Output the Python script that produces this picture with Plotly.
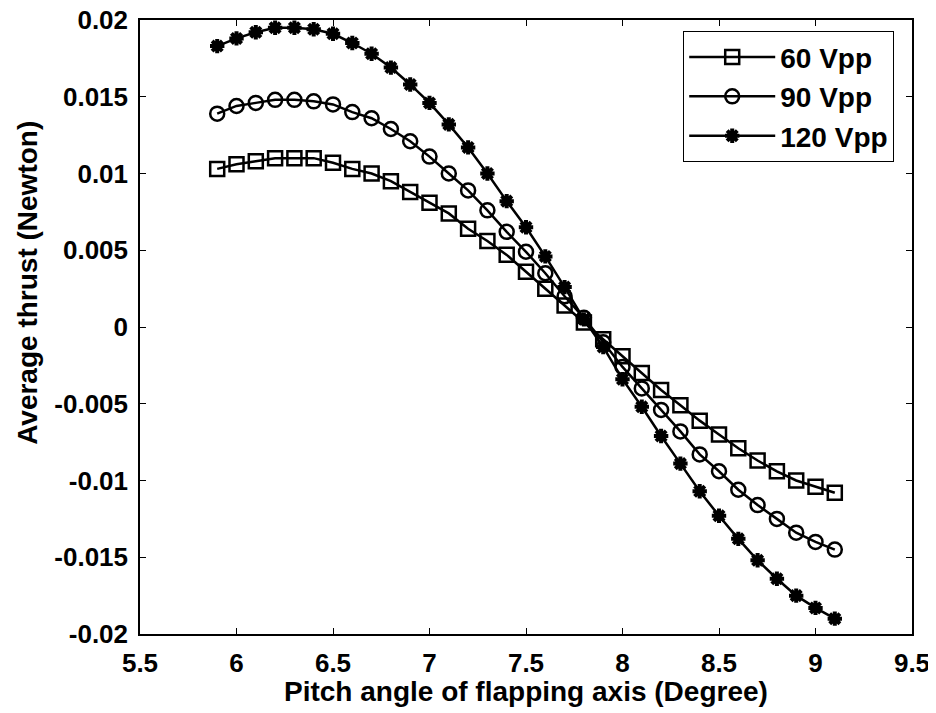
import plotly.graph_objects as go

pitch = [5.9, 6.0, 6.1, 6.2, 6.3, 6.4, 6.5, 6.6, 6.7, 6.8, 6.9, 7.0, 7.1, 7.2, 7.3, 7.4,
         7.5, 7.6, 7.7, 7.8, 7.9, 8.0, 8.1, 8.2, 8.3, 8.4, 8.5, 8.6, 8.7, 8.8, 8.9, 9.0, 9.1]

thrust_60 = [0.0103, 0.0106, 0.0108, 0.0110, 0.0110, 0.0110, 0.0107, 0.0103, 0.0100, 0.0095,
             0.0088, 0.0081, 0.0074, 0.0064, 0.0056, 0.0047, 0.0036, 0.0025, 0.0014, 0.0003,
             -0.0008, -0.0019, -0.0030, -0.0041, -0.0051, -0.0061, -0.0070, -0.0079, -0.0087,
             -0.0094, -0.0100, -0.0104, -0.0108]

thrust_90 = [0.0139, 0.0144, 0.0146, 0.0148, 0.0148, 0.0147, 0.0145, 0.0140, 0.0136, 0.0129,
             0.0121, 0.0111, 0.0100, 0.0089, 0.0076, 0.0062, 0.0049, 0.0035, 0.0020, 0.0006,
             -0.0010, -0.0026, -0.0040, -0.0054, -0.0068, -0.0083, -0.0094, -0.0106, -0.0116,
             -0.0125, -0.0134, -0.0140, -0.0145]

thrust_120 = [0.0183, 0.0188, 0.0192, 0.0195, 0.0195, 0.0194, 0.0191, 0.0185, 0.0178, 0.0169,
              0.0158, 0.0146, 0.0132, 0.0117, 0.0100, 0.0082, 0.0065, 0.0046, 0.0026, 0.0005,
              -0.0013, -0.0034, -0.0052, -0.0071, -0.0089, -0.0107, -0.0123, -0.0138, -0.0152,
              -0.0164, -0.0175, -0.0183, -0.0190]

series_names = ["60 Vpp", "90 Vpp", "120 Vpp"]

x_ticks = [5.5, 6, 6.5, 7, 7.5, 8, 8.5, 9, 9.5]
x_tick_labels = ["5.5", "6", "6.5", "7", "7.5", "8", "8.5", "9", "9.5"]
y_ticks = [-0.02, -0.015, -0.01, -0.005, 0, 0.005, 0.01, 0.015, 0.02]
y_tick_labels = ["-0.02", "-0.015", "-0.01", "-0.005", "0", "0.005", "0.01", "0.015", "0.02"]

x_title = "Pitch angle of flapping axis (Degree)"
y_title = "Average thrust (Newton)"

FONT = "Liberation Sans, Arial, Helvetica, sans-serif"


def bold(s):
    return "<b>%s</b>" % s


series = [
    (thrust_60, series_names[0], dict(symbol="square-open", size=14, line=dict(width=2.5, color="black"))),
    (thrust_90, series_names[1], dict(symbol="circle-open", size=14, line=dict(width=2.5, color="black"))),
    (thrust_120, series_names[2], dict(symbol="asterisk-open", size=12, line=dict(width=4, color="black"))),
]

fig = go.Figure()
for i, (vals, name, mk) in enumerate(series):
    fig.add_trace(go.Scatter(
        x=pitch, y=vals, name=bold(name), mode="lines+markers",
        legendgroup="g%d" % i,
        line=dict(color="black", width=2.5),
        marker=dict(color="black", **mk),
    ))

axis_common = dict(
    showline=True, linecolor="black", linewidth=1.5, mirror="ticks",
    ticks="inside", ticklen=6, tickwidth=1, tickcolor="black",
    showgrid=False, zeroline=False, automargin=False,
    ticklabeloverflow="allow",
    tickfont=dict(family=FONT, size=26, color="black"),
)

fig.update_xaxes(
    range=[5.5, 9.5], tickmode="array", tickvals=x_ticks,
    ticktext=[bold(t) for t in x_tick_labels],
    ticklabelstandoff=5,
    **axis_common,
)
fig.update_yaxes(
    range=[-0.02, 0.02], tickmode="array", tickvals=y_ticks,
    ticktext=[bold(t) for t in y_tick_labels],
    ticklabelstandoff=5,
    **axis_common,
)

fig.add_annotation(
    text=bold(x_title), showarrow=False,
    xref="paper", yref="paper", x=0.5, y=-0.093, xanchor="center", yanchor="middle",
    font=dict(family=FONT, size=28, color="black"),
)
fig.add_annotation(
    text=bold(y_title), textangle=-90, showarrow=False,
    xref="paper", yref="paper", x=-0.145, y=0.572, xanchor="center", yanchor="middle",
    font=dict(family=FONT, size=28, color="black"),
)

fig.update_layout(
    width=928, height=705,
    margin=dict(l=132, r=24, t=12, b=79),
    paper_bgcolor="white", plot_bgcolor="white",
    showlegend=True,
    legend=dict(
        x=0.9767, y=0.982, xanchor="right", yanchor="top",
        bgcolor="white", bordercolor="black", borderwidth=1.2,
        font=dict(family=FONT, size=28, color="black"),
        itemwidth=86, tracegroupgap=0,
    ),
)

fig.write_html("out.html")
